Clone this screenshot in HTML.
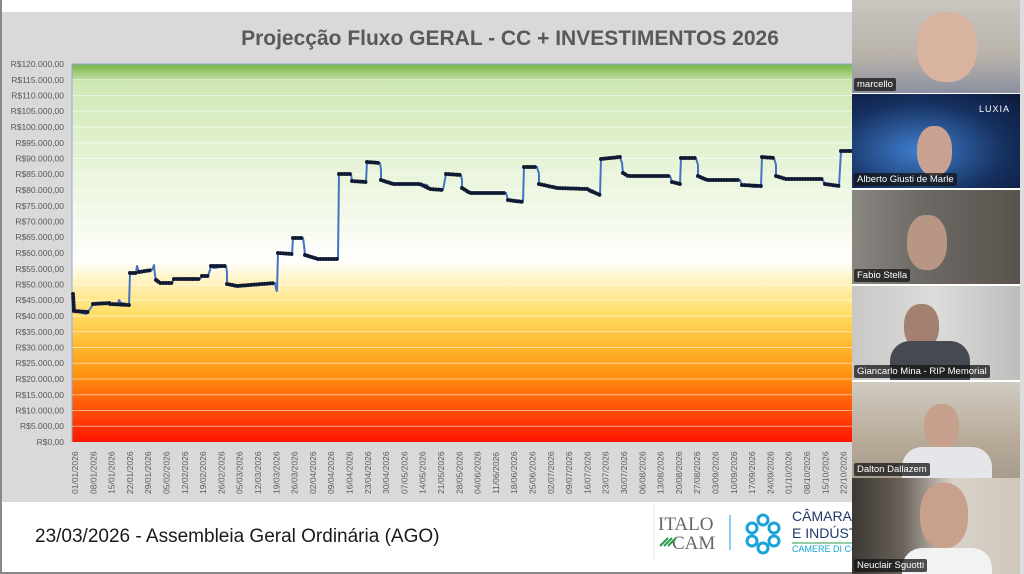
<!DOCTYPE html>
<html><head><meta charset="utf-8"><style>
body{margin:0;width:1024px;height:574px;overflow:hidden;background:#fff;font-family:"Liberation Sans",sans-serif;position:relative}
.t{position:absolute;left:852px;width:168px;overflow:hidden}
.n{position:absolute;left:2px;bottom:2px;background:rgba(20,20,20,.75);color:#fff;font-size:9.5px;padding:1px 3px;border-radius:2px;white-space:nowrap}
</style></head><body>
<svg width="1024" height="574" style="position:absolute;left:0;top:0">
<defs>
<linearGradient id="g" x1="0" y1="0" x2="0" y2="1">
<stop offset="0" stop-color="#74b444"/>
<stop offset="0.05" stop-color="#cfe8b4"/>
<stop offset="0.25" stop-color="#e6f3d6"/>
<stop offset="0.45" stop-color="#f7fbf0"/>
<stop offset="0.52" stop-color="#ffffff"/>
<stop offset="0.56" stop-color="#fff6cf"/>
<stop offset="0.66" stop-color="#ffdd66"/>
<stop offset="0.74" stop-color="#ffbb33"/>
<stop offset="0.82" stop-color="#ff9410"/>
<stop offset="0.9" stop-color="#ff5a0a"/>
<stop offset="1" stop-color="#ff1500"/>
</linearGradient>
</defs>
<rect x="0" y="12" width="852" height="490" fill="#d9d9d9"/>
<rect x="0" y="0" width="2" height="574" fill="#888"/>
<rect x="0" y="572" width="1024" height="2" fill="#888"/>
<text x="510" y="45" text-anchor="middle" font-size="21" font-weight="bold" fill="#595959">Projecção Fluxo GERAL - CC + INVESTIMENTOS 2026</text>
<rect x="72" y="64" width="780" height="378" fill="url(#g)"/>
<g stroke="#ffffff" stroke-opacity="0.55" stroke-width="1">
<line x1="72" x2="852" y1="79.75" y2="79.75"/><line x1="72" x2="852" y1="95.5" y2="95.5"/><line x1="72" x2="852" y1="111.25" y2="111.25"/><line x1="72" x2="852" y1="127" y2="127"/><line x1="72" x2="852" y1="142.75" y2="142.75"/><line x1="72" x2="852" y1="158.5" y2="158.5"/><line x1="72" x2="852" y1="174.25" y2="174.25"/><line x1="72" x2="852" y1="190" y2="190"/><line x1="72" x2="852" y1="205.75" y2="205.75"/><line x1="72" x2="852" y1="221.5" y2="221.5"/><line x1="72" x2="852" y1="237.25" y2="237.25"/><line x1="72" x2="852" y1="253" y2="253"/><line x1="72" x2="852" y1="268.75" y2="268.75"/><line x1="72" x2="852" y1="284.5" y2="284.5"/><line x1="72" x2="852" y1="300.25" y2="300.25"/><line x1="72" x2="852" y1="316" y2="316"/><line x1="72" x2="852" y1="331.75" y2="331.75"/><line x1="72" x2="852" y1="347.5" y2="347.5"/><line x1="72" x2="852" y1="363.25" y2="363.25"/><line x1="72" x2="852" y1="379" y2="379"/><line x1="72" x2="852" y1="394.75" y2="394.75"/><line x1="72" x2="852" y1="410.5" y2="410.5"/><line x1="72" x2="852" y1="426.25" y2="426.25"/>
</g>
<line x1="72" y1="64" x2="72" y2="442" stroke="#8eaadb" stroke-width="1"/>
<line x1="72" y1="64" x2="852" y2="64" stroke="#8eaadb" stroke-width="1"/>
<g font-size="8.5" fill="#595959" text-anchor="end">
<text x="64" y="67">R$120.000,00</text><text x="64" y="83">R$115.000,00</text><text x="64" y="98.5">R$110.000,00</text><text x="64" y="114">R$105.000,00</text><text x="64" y="130">R$100.000,00</text><text x="64" y="146">R$95.000,00</text><text x="64" y="161.5">R$90.000,00</text><text x="64" y="177">R$85.000,00</text><text x="64" y="193">R$80.000,00</text><text x="64" y="209">R$75.000,00</text><text x="64" y="224.5">R$70.000,00</text><text x="64" y="240">R$65.000,00</text><text x="64" y="256">R$60.000,00</text><text x="64" y="272">R$55.000,00</text><text x="64" y="287.5">R$50.000,00</text><text x="64" y="303">R$45.000,00</text><text x="64" y="319">R$40.000,00</text><text x="64" y="335">R$35.000,00</text><text x="64" y="350.5">R$30.000,00</text><text x="64" y="366">R$25.000,00</text><text x="64" y="382">R$20.000,00</text><text x="64" y="398">R$15.000,00</text><text x="64" y="413.5">R$10.000,00</text><text x="64" y="429">R$5.000,00</text><text x="64" y="445">R$0,00</text>
</g>
<g font-size="8.5" fill="#595959">
<text transform="translate(78,494) rotate(-90)">01/01/2026</text><text transform="translate(96.3,494) rotate(-90)">08/01/2026</text><text transform="translate(114.6,494) rotate(-90)">15/01/2026</text><text transform="translate(132.9,494) rotate(-90)">22/01/2026</text><text transform="translate(151.2,494) rotate(-90)">29/01/2026</text><text transform="translate(169.5,494) rotate(-90)">05/02/2026</text><text transform="translate(187.8,494) rotate(-90)">12/02/2026</text><text transform="translate(206.1,494) rotate(-90)">19/02/2026</text><text transform="translate(224.4,494) rotate(-90)">26/02/2026</text><text transform="translate(242.7,494) rotate(-90)">05/03/2026</text><text transform="translate(261,494) rotate(-90)">12/03/2026</text><text transform="translate(279.3,494) rotate(-90)">19/03/2026</text><text transform="translate(297.6,494) rotate(-90)">26/03/2026</text><text transform="translate(315.9,494) rotate(-90)">02/04/2026</text><text transform="translate(334.2,494) rotate(-90)">09/04/2026</text><text transform="translate(352.5,494) rotate(-90)">16/04/2026</text><text transform="translate(370.8,494) rotate(-90)">23/04/2026</text><text transform="translate(389.1,494) rotate(-90)">30/04/2026</text><text transform="translate(407.4,494) rotate(-90)">07/05/2026</text><text transform="translate(425.7,494) rotate(-90)">14/05/2026</text><text transform="translate(444,494) rotate(-90)">21/05/2026</text><text transform="translate(462.3,494) rotate(-90)">28/05/2026</text><text transform="translate(480.6,494) rotate(-90)">04/06/2026</text><text transform="translate(498.9,494) rotate(-90)">11/06/2026</text><text transform="translate(517.2,494) rotate(-90)">18/06/2026</text><text transform="translate(535.5,494) rotate(-90)">25/06/2026</text><text transform="translate(553.8,494) rotate(-90)">02/07/2026</text><text transform="translate(572.1,494) rotate(-90)">09/07/2026</text><text transform="translate(590.4,494) rotate(-90)">16/07/2026</text><text transform="translate(608.7,494) rotate(-90)">23/07/2026</text><text transform="translate(627,494) rotate(-90)">30/07/2026</text><text transform="translate(645.3,494) rotate(-90)">06/08/2026</text><text transform="translate(663.6,494) rotate(-90)">13/08/2026</text><text transform="translate(681.9,494) rotate(-90)">20/08/2026</text><text transform="translate(700.2,494) rotate(-90)">27/08/2026</text><text transform="translate(718.5,494) rotate(-90)">03/09/2026</text><text transform="translate(736.8,494) rotate(-90)">10/09/2026</text><text transform="translate(755.1,494) rotate(-90)">17/09/2026</text><text transform="translate(773.4,494) rotate(-90)">24/09/2026</text><text transform="translate(791.7,494) rotate(-90)">01/10/2026</text><text transform="translate(810,494) rotate(-90)">08/10/2026</text><text transform="translate(828.3,494) rotate(-90)">15/10/2026</text><text transform="translate(846.6,494) rotate(-90)">22/10/2026</text>
</g>
<g fill="none" stroke-linejoin="round">
<polyline stroke="#4472c4" stroke-width="2" points="73,294 74,298 74,311 78,312 86,314 88,312 92,306 93,304 100,303 110,303 112,305 118,304 119,300 121,303 126,304 129,305 130,273 136,273 137,266 139,272 146,271 152,270 154,265 155,275 156,280 158,280 160,283 172,283 174,279 200,279 202,276 208,276 210,270 211,266 214,268 226,266 227,272 227,284 237,286 275,283 276,289 277,291 278,253 292,254 293,238 303,238 304,245 305,255 313,257 318,259 338,259 339,174 351,174 352,181 366,182 367,162 380,163 381,170 381,180 390,182 393,184 420,184 427,185 430,189 443,190 446,174 461,175 462,180 462,188 470,193 506,193 508,200 518,202 523,202 524,167 537,167 539,174 539,184 548,186 557,188 587,189 590,192 600,195 601,159 620,157 622,163 623,173 628,176 670,176 672,182 680,184 681,158 696,158 698,165 698,176 707,180 740,180 742,185 755,187 761,186 762,157 774,158 776,165 776,176 786,179 822,179 825,184 833,186 839,186 841,151 852,151"/>
<path stroke="#111a33" stroke-width="4" stroke-linecap="round" stroke-dasharray="0 2.7" d="M73,294 L74,311 M74,311 L88,312 M93,304 L110,303 M110,304 L129,305 M130,273 L136,273 M139,272 L152,270 M156,280 L160,283 L172,283 M174,279 L200,279 M202,276 L208,276 M211,266 L226,266 M227,284 L237,286 L275,283 M278,253 L292,254 M293,238 L303,238 M305,255 L318,259 L338,259 M339,174 L351,174 M352,181 L366,182 M367,162 L380,163 M381,180 L393,184 L420,184 L430,189 L443,190 M446,174 L461,175 M462,188 L470,193 L506,193 M508,200 L523,202 M524,167 L537,167 M539,184 L557,188 L587,189 L600,195 M601,159 L620,157 M623,173 L628,176 L670,176 M672,182 L680,184 M681,158 L696,158 M698,176 L707,180 L740,180 M742,185 L761,186 M762,157 L774,158 M776,176 L786,179 L822,179 M825,184 L839,186 M841,151 L852,151"/>
</g>
<text x="35" y="542" font-size="19" fill="#1a1a1a">23/03/2026 - Assembleia Geral Ordinária (AGO)</text>
<line x1="654" y1="505" x2="654" y2="560" stroke="#e0e0e0"/>
<text x="658" y="530" font-family="Liberation Serif,serif" font-size="19" fill="#666">ITALO</text>
<text x="672" y="549" font-family="Liberation Serif,serif" font-size="19" fill="#666">CAM</text>
<path d="M660 546 l8 -8 M664 546 l8 -8 M668 546 l8 -8" stroke="#2a9d4a" stroke-width="2"/>
<line x1="730" y1="515" x2="730" y2="550" stroke="#1aa3d8" stroke-width="1"/>
<g fill="none" stroke="#1aa3d8" stroke-width="3"><circle cx="763" cy="520" r="5"/><circle cx="752" cy="528" r="5"/><circle cx="774" cy="528" r="5"/><circle cx="752" cy="541" r="5"/><circle cx="774" cy="541" r="5"/><circle cx="763" cy="548" r="5"/></g>
<text x="792" y="521" font-size="14" fill="#1f3868">CÂMARA ÍT</text>
<text x="792" y="538" font-size="14" fill="#1f3868">E INDÚSTRI</text>
<line x1="792" y1="543" x2="852" y2="543" stroke="#2a9d4a"/>
<text x="792" y="552" font-size="9" fill="#1aa3d8">CAMERE DI CO</text>
<rect x="1020" y="0" width="4" height="574" fill="#ddd"/>
</svg>
<div class="t" style="top:0;height:93px;background:linear-gradient(180deg,#c9c6c0,#b8b2aa 60%,#8c90a0)"><div style="position:absolute;left:65px;top:12px;width:60px;height:70px;border-radius:45%;background:#d7b3a0"></div><div class="n">marcello</div></div>
<div class="t" style="top:94px;height:94px;background:radial-gradient(ellipse at 40% 60%,#3f7fd0,#16305f 60%,#0c1838)"><div style="position:absolute;left:65px;top:32px;width:35px;height:50px;border-radius:45%;background:#c9a191"></div><div style="position:absolute;right:10px;top:10px;color:#fff;font-size:9px;letter-spacing:1px">LUXIA</div><div class="n">Alberto Giusti de Marle</div></div>
<div class="t" style="top:190px;height:94px;background:linear-gradient(90deg,#8a8680,#6e6a66 40%,#5a534d)"><div style="position:absolute;left:55px;top:25px;width:40px;height:55px;border-radius:45%;background:#b89684"></div><div class="n">Fabio Stella</div></div>
<div class="t" style="top:286px;height:94px;background:linear-gradient(90deg,#c8c8c6,#dcdcda 50%,#bdbdbb)"><div style="position:absolute;left:52px;top:18px;width:35px;height:45px;border-radius:45%;background:#a38070"></div><div style="position:absolute;left:38px;top:55px;width:80px;height:40px;background:#454a52;border-radius:20px 20px 0 0"></div><div class="n">Giancarlo Mina - RIP Memorial</div></div>
<div class="t" style="top:382px;height:96px;background:linear-gradient(180deg,#d0cbc2,#b9ab99 60%,#a79c8d)"><div style="position:absolute;left:72px;top:22px;width:35px;height:45px;border-radius:45%;background:#c6a08d"></div><div style="position:absolute;left:50px;top:65px;width:90px;height:35px;background:#e6e6ea;border-radius:20px 20px 0 0"></div><div class="n">Dalton Dallazem</div></div>
<div class="t" style="top:478px;height:96px;background:linear-gradient(90deg,#3c3834,#6a625b 30%,#d8d2c8 60%,#cfc7bc)"><div style="position:absolute;left:68px;top:5px;width:48px;height:65px;border-radius:45%;background:#c9a08c"></div><div style="position:absolute;left:50px;top:70px;width:90px;height:30px;background:#f2f2f2;border-radius:20px 20px 0 0"></div><div class="n">Neuclair Sguotti</div></div>
</body></html>
